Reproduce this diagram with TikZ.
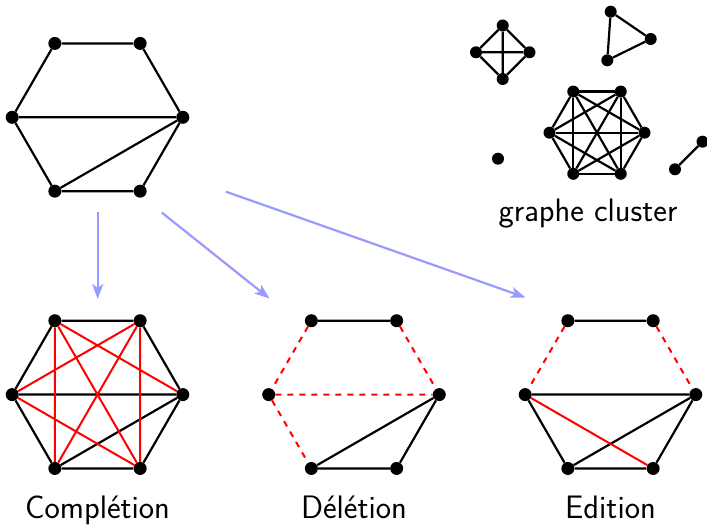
\documentclass[tikz,border=0pt]{standalone}
\usetikzlibrary{arrows.meta}
\begin{document}
\begin{tikzpicture}[x=1pt,y=-1pt,
  v/.style={circle,fill=black,inner sep=0pt,minimum size=13pt},
  sv/.style={circle,fill=black,inner sep=0pt,minimum size=12pt},
  e/.style={line width=2.2pt},
  re/.style={red,line width=2pt},
  rd/.style={red,line width=2pt,dash pattern=on 6pt off 6pt},
  arr/.style={blue!40,line width=2.2pt,-{Stealth[length=15pt,width=11pt,inset=4pt]}},
  lab/.style={font=\sffamily\fontsize{32.5}{40}\selectfont,anchor=base,inner sep=0pt}]
\useasboundingbox (0,0) rectangle (707,526);

% hexagon vertices
\foreach \P/\cx/\cy in {A/97.5/117.3, B/97.5/394.6, C/354/394.6, D/610.5/394.6}{
  \foreach \n/\a in {r/0, tr/-60, tl/-120, l/180, bl/120, br/60}{
    \node[v] (\P-\n) at ({\cx+85.3*cos(\a)},{\cy+85.3*sin(\a)}) {};
  }
}

% A : original graph
\draw[e] (A-tl)--(A-tr) (A-tr)--(A-r) (A-r)--(A-br) (A-br)--(A-bl) (A-bl)--(A-l) (A-l)--(A-tl)
         (A-l)--(A-r) (A-bl)--(A-r);

% B : completion
\draw[e] (B-tl)--(B-tr) (B-tr)--(B-r) (B-r)--(B-br) (B-br)--(B-bl) (B-bl)--(B-l) (B-l)--(B-tl)
         (B-l)--(B-r) (B-bl)--(B-r);
\draw[re] (B-tl)--(B-bl) (B-tl)--(B-br) (B-tl)--(B-r) (B-tr)--(B-br) (B-tr)--(B-bl) (B-tr)--(B-l) (B-l)--(B-br);

% C : deletion
\draw[e] (C-tl)--(C-tr) (C-r)--(C-br) (C-br)--(C-bl) (C-bl)--(C-r);
\draw[rd] (C-tl)--(C-l) (C-tr)--(C-r) (C-l)--(C-r) (C-l)--(C-bl);

% D : edition
\draw[e] (D-tl)--(D-tr) (D-l)--(D-r) (D-l)--(D-bl) (D-bl)--(D-br) (D-br)--(D-r) (D-bl)--(D-r);
\draw[re] (D-l)--(D-br);
\draw[rd] (D-tl)--(D-l) (D-tr)--(D-r);

% cluster graph
\node[sv] (k1) at (476,52.3) {};
\node[sv] (k2) at (502.7,25.5) {};
\node[sv] (k3) at (529.5,52.3) {};
\node[sv] (k4) at (502.7,79) {};
\draw[e] (k1)--(k2) (k2)--(k3) (k3)--(k4) (k4)--(k1) (k1)--(k3) (k2)--(k4);

\node[sv] (t1) at (610.7,11.7) {};
\node[sv] (t2) at (650.7,39) {};
\node[sv] (t3) at (607.3,60.3) {};
\draw[e] (t1)--(t2) (t2)--(t3) (t3)--(t1);

\foreach \n/\a in {1/0, 2/-60, 3/-120, 4/180, 5/120, 6/60}{
  \node[sv] (h\n) at ({597+47.5*cos(\a)},{132.7+47.5*sin(\a)}) {};
}
\foreach \i in {1,...,6}{
  \foreach \j in {1,...,6}{
    \ifnum\i<\j \draw[e] (h\i)--(h\j); \fi
  }
}

\node[sv] (iso) at (498,158.7) {};
\node[sv] (p1) at (675,169.3) {};
\node[sv] (p2) at (702.5,141.7) {};
\draw[e] (p1)--(p2);

% arrows
\coordinate (s1) at (97.7,212.5);
\coordinate (e1) at (97.7,299);
\coordinate (s2) at (161.7,212.5);
\coordinate (e2) at (269.5,298.5);
\coordinate (s3) at (226,191.7);
\coordinate (e3) at (525.5,297.5);
\draw[arr] (s1)--(e1);
\draw[arr] (s2)--(e2);
\draw[arr] (s3)--(e3);

% labels
\node[lab] (lc) at (588,222) {graphe cluster};
\node[lab] (l1) at (97.5,518) {Complétion};
\node[lab] (l2) at (354,518) {Délétion};
\node[lab] (l3) at (610.5,518) {Edition};
\end{tikzpicture}
\end{document}
